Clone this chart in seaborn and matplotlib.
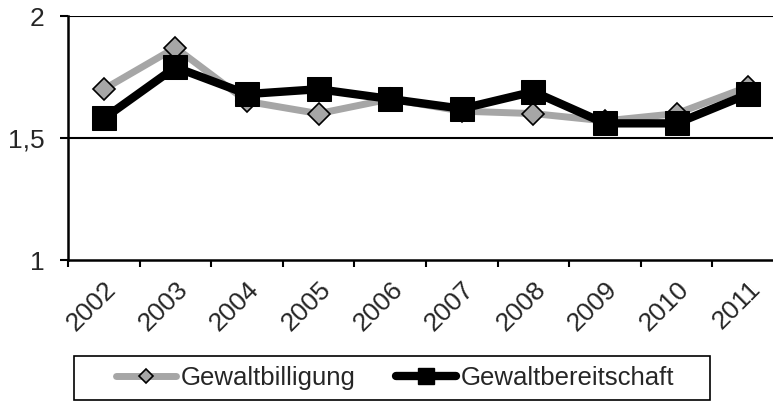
import matplotlib
matplotlib.use("Agg")
import matplotlib.pyplot as plt
from matplotlib.lines import Line2D
from matplotlib.patches import Rectangle
import seaborn as sns
import pandas as pd

# Data
years = ["2002", "2003", "2004", "2005", "2006", "2007", "2008", "2009", "2010", "2011"]
gewaltbilligung = [1.70, 1.87, 1.65, 1.60, 1.66, 1.61, 1.60, 1.57, 1.60, 1.71]
gewaltbereitschaft = [1.58, 1.79, 1.68, 1.70, 1.66, 1.62, 1.69, 1.56, 1.56, 1.68]
y_ticks = [1, 1.5, 2]
y_labels = ["1", "1,5", "2"]

df = pd.DataFrame({
    "x": list(range(len(years))) * 2,
    "wert": gewaltbilligung + gewaltbereitschaft,
    "reihe": ["Gewaltbilligung"] * len(years) + ["Gewaltbereitschaft"] * len(years),
})

sns.set_style("white")
plt.rcParams["font.family"] = ["Liberation Sans", "DejaVu Sans"]

grey = "#a6a6a6"
fig = plt.figure(figsize=(7.73, 4.01), dpi=100)
ax = fig.add_axes([68 / 773, 141 / 401, 716 / 773, 244 / 401])

sns.lineplot(data=df[df["reihe"] == "Gewaltbilligung"], x="x", y="wert", ax=ax,
             color=grey, linewidth=5, marker="D", markersize=11,
             markerfacecolor=grey, markeredgecolor="black", markeredgewidth=1.2,
             legend=False, zorder=3)
sns.lineplot(data=df[df["reihe"] == "Gewaltbereitschaft"], x="x", y="wert", ax=ax,
             color="black", linewidth=6, marker="s", markersize=17,
             markerfacecolor="black", markeredgecolor="black",
             legend=False, zorder=4)

ax.set_xlim(-0.5, len(years) - 0.5)
ax.set_ylim(1, 2)
for v in y_ticks[1:]:
    ax.axhline(v, color="black", linewidth=1.5, zorder=1)

ax.set_yticks(y_ticks)
ax.set_yticklabels(y_labels, fontsize=19)
ax.set_xticks(range(len(years)))
ax.set_xticklabels(years, fontsize=19, rotation=45, ha="right", rotation_mode="anchor")
ax.set_xticks([i - 0.5 for i in range(len(years))], minor=True)
ax.tick_params(axis="x", which="major", length=0, pad=12)
ax.tick_params(axis="x", which="minor", length=5, width=1.5, color="black", direction="out", bottom=True)
ax.tick_params(axis="y", length=6, width=1.5, color="black", direction="out", left=True, pad=11)
ax.set_xlabel("")
ax.set_ylabel("")

for s in ["top", "right"]:
    ax.spines[s].set_visible(False)
for s in ["left", "bottom"]:
    ax.spines[s].set_color("black")
    ax.spines[s].set_linewidth(1.8)

# legend with its own smaller markers
handles = [
    Line2D([], [], color=grey, linewidth=5, marker="D", markersize=7,
           markerfacecolor=grey, markeredgecolor="black", markeredgewidth=1.2),
    Line2D([], [], color="black", linewidth=6, marker="s", markersize=11,
           markerfacecolor="black", markeredgecolor="black"),
]
labels = ["Gewaltbilligung", "Gewaltbereitschaft"]
fig.legend(handles, labels, ncol=2, loc="center",
           bbox_to_anchor=(395 / 773, 23 / 401), frameon=False,
           fontsize=18.5, handlelength=2.33, handletextpad=0.2, columnspacing=1.56,
           borderpad=0, borderaxespad=0)
fig.add_artist(Rectangle((74 / 773, 1 / 401), 636 / 773, 44 / 401, transform=fig.transFigure,
                         fill=False, edgecolor="black", linewidth=1.2))

fig.savefig("out.png", dpi=100)
